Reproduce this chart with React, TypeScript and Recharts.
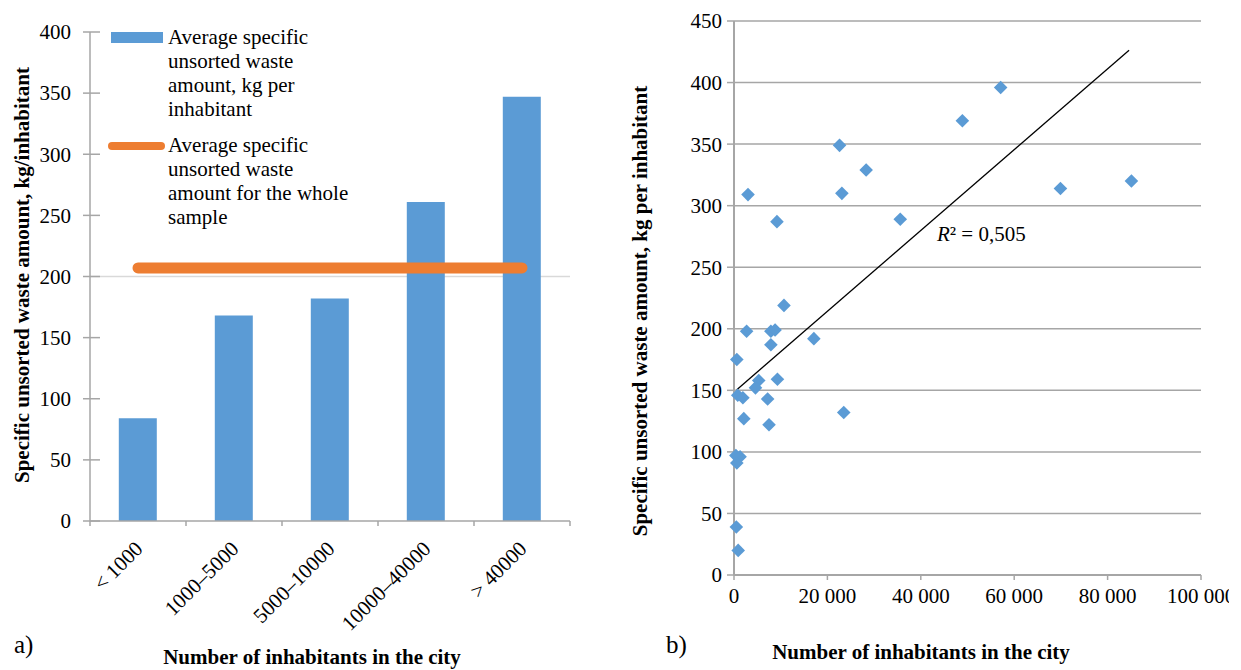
import React from 'react';
import {
  ComposedChart, Bar, Line, XAxis, YAxis, Legend, CartesianGrid,
  ScatterChart, Scatter, ReferenceLine,
} from 'recharts';

// ---------- Chart a) data ----------
const categories = ['< 1000', '1000–5000', '5000–10000', '10000–40000', '> 40000'];
const avgWastePerGroup = [84, 168, 182, 261, 347];
const avgWholeSample = [207, 207, 207, 207, 207];
const leftYTicks = [0, 50, 100, 150, 200, 250, 300, 350, 400];
const barSeriesName = 'Average specific unsorted waste amount, kg per inhabitant';
const lineSeriesName = 'Average specific unsorted waste amount for the whole sample';

// ---------- Chart b) data ----------
const inhabitants = [
  3000, 9200, 22600, 23100, 28300, 35600, 48900, 57100, 69900, 85100,
  10700, 2700, 7900, 8800, 7900, 17100, 600, 5300, 4600, 9300,
  800, 1900, 7200, 2100, 7500, 23500, 400, 1300, 600, 500, 900,
];
const wastePerInhabitant = [
  309, 287, 349, 310, 329, 289, 369, 396, 314, 320,
  219, 198, 198, 199, 187, 192, 175, 158, 152, 159,
  146, 144, 143, 127, 122, 132, 97, 96, 91, 39, 20,
];
const trendX = [600, 84600];
const trendY = [150.5, 426.3];
const rightXTicks = [0, 20000, 40000, 60000, 80000, 100000];
const rightYTicks = [0, 50, 100, 150, 200, 250, 300, 350, 400, 450];
const r2Label = '0,505';

const barData = categories.map((c, i) => ({
  name: c,
  value: avgWastePerGroup[i],
  avg: avgWholeSample[i],
}));
const scatterData = inhabitants.map((x, i) => ({ x, y: wastePerInhabitant[i] }));

const FONT = '"Liberation Serif", "Times New Roman", serif';
const BLUE = '#5B9BD5';
const ORANGE = '#ED7D31';
const AXIS = '#a6a6a6';

const fmtThousands = (v: number) =>
  String(v).replace(/\B(?=(\d{3})+(?!\d))/g, ' ');

const LeftYTick = (props: any) => {
  const { x, y, payload } = props;
  const ax = x + 19;
  return (
    <g>
      <line x1={ax - 7} x2={ax + 10} y1={y} y2={y} stroke={AXIS} strokeWidth={1.5} />
      <text x={x} y={y} dy="0.35em" textAnchor="end" fontSize={21} fontFamily={FONT} fill="#000">
        {payload.value}
      </text>
    </g>
  );
};

const LeftXTick = (props: any) => {
  const { x, y, payload, index, visibleTicksCount } = props;
  const half = 48;
  const tx = x + 6;
  const ty = y + 29;
  return (
    <g>
      <line x1={x - half} x2={x - half} y1={y} y2={y + 5} stroke={AXIS} strokeWidth={1.5} />
      {index === visibleTicksCount - 1 && (
        <line x1={x + half} x2={x + half} y1={y} y2={y + 5} stroke={AXIS} strokeWidth={1.5} />
      )}
      <text
        x={tx}
        y={ty}
        textAnchor="end"
        transform={`rotate(-45, ${tx}, ${ty})`}
        fontSize={21}
        fontFamily={FONT}
        fill="#000"
      >
        {payload.value}
      </text>
    </g>
  );
};

const LegendContent = () => (
  <div style={{ fontFamily: FONT, fontSize: 21, lineHeight: '24px', color: '#000', textAlign: 'left' }}>
    <div style={{ display: 'flex', alignItems: 'flex-start' }}>
      <div style={{ width: 57, flex: '0 0 57px', marginTop: 7 }}>
        <div style={{ marginLeft: 3, width: 52, height: 11, background: BLUE }} />
      </div>
      <div style={{ marginLeft: 3, width: 186 }}>{barSeriesName}</div>
    </div>
    <div style={{ display: 'flex', alignItems: 'flex-start', marginTop: 12 }}>
      <svg width={57} height={24} style={{ flex: '0 0 57px' }}>
        <line x1={4} x2={53} y1={13} y2={13} stroke={ORANGE} strokeWidth={8} strokeLinecap="round" />
      </svg>
      <div style={{ marginLeft: 3, width: 186 }}>{lineSeriesName}</div>
    </div>
  </div>
);

const titleStyle: React.CSSProperties = {
  position: 'absolute',
  fontFamily: FONT,
  fontWeight: 'bold',
  fontSize: 21,
  whiteSpace: 'nowrap',
  color: '#000',
  lineHeight: '24px',
};

export default function App() {
  return (
    <div style={{ position: 'absolute', left: 0, top: 0, width: 1241, height: 670, background: '#fff', overflow: 'hidden', fontFamily: FONT }}>
      {/* Chart a) */}
      <div style={{ position: 'absolute', left: 0, top: 0 }}>
        <ComposedChart
          width={620}
          height={670}
          data={barData}
          margin={{ top: 32, right: 50, left: 30, bottom: 49 }}
          barCategoryGap="30%"
        >
          <CartesianGrid vertical={false} horizontalValues={[200]} stroke="#d9d9d9" strokeWidth={1.5} />
          <XAxis
            dataKey="name"
            height={100}
            axisLine={{ stroke: AXIS, strokeWidth: 1.5 }}
            tickLine={false}
            tickSize={0}
            tickMargin={0}
            interval={0}
            tick={<LeftXTick />}
          />
          <YAxis
            width={60}
            domain={[0, 400]}
            ticks={leftYTicks}
            axisLine={{ stroke: AXIS, strokeWidth: 1.5 }}
            tickLine={false}
            tickSize={7}
            tickMargin={12}
            tick={<LeftYTick />}
          />
          <Legend
            verticalAlign="middle"
            align="center"
            layout="horizontal"
            content={<LegendContent />}
            wrapperStyle={{ position: 'absolute', left: 108, top: 25, width: 260, height: 'auto' }}
          />
          <Bar dataKey="value" name={barSeriesName} fill={BLUE} isAnimationActive={false} />
          <Line
            dataKey="avg"
            name={lineSeriesName}
            stroke={ORANGE}
            strokeWidth={11}
            strokeLinecap="round"
            dot={false}
            activeDot={false}
            isAnimationActive={false}
          />
        </ComposedChart>
      </div>

      {/* Chart b) */}
      <div style={{ position: 'absolute', left: 620, top: 0 }}>
        <ScatterChart
          width={609}
          height={670}
          margin={{ top: 21, right: 28, left: 54, bottom: 65 }}
          style={{ overflow: 'hidden' }}
        >
          <CartesianGrid vertical={false} stroke={AXIS} strokeWidth={1.5} />
          <XAxis
            type="number"
            dataKey="x"
            domain={[0, 100000]}
            ticks={rightXTicks}
            height={30}
            tickFormatter={fmtThousands}
            axisLine={{ stroke: AXIS, strokeWidth: 2 }}
            tickLine={{ stroke: AXIS, strokeWidth: 1.5 }}
            tickSize={5}
            tickMargin={8}
            tick={{ fontSize: 21, fontFamily: FONT, fill: '#000' }}
            interval={0}
          />
          <YAxis
            type="number"
            dataKey="y"
            domain={[0, 450]}
            ticks={rightYTicks}
            width={60}
            axisLine={{ stroke: AXIS, strokeWidth: 2 }}
            tickLine={{ stroke: AXIS, strokeWidth: 1.5 }}
            tickSize={7}
            tickMargin={5}
            tick={{ fontSize: 21, fontFamily: FONT, fill: '#000' }}
            interval={0}
          />
          <Scatter
            data={scatterData}
            fill={BLUE}
            isAnimationActive={false}
            shape={(p: any) => {
              const { cx, cy } = p;
              const r = 6.8;
              return (
                <path
                  d={`M${cx},${cy - r}L${cx + r},${cy}L${cx},${cy + r}L${cx - r},${cy}Z`}
                  fill={BLUE}
                />
              );
            }}
          />
          <ReferenceLine
            segment={[
              { x: trendX[0], y: trendY[0] },
              { x: trendX[1], y: trendY[1] },
            ]}
            stroke="#000"
            strokeWidth={1.3}
          />
        </ScatterChart>
      </div>

      {/* Titles and labels */}
      <div style={{ ...titleStyle, left: 22, top: 275, transform: 'translate(-50%, -50%) rotate(-90deg)' }}>
        Specific unsorted waste amount, kg/inhabitant
      </div>
      <div style={{ ...titleStyle, left: 312, top: 657, transform: 'translate(-50%, -50%)' }}>
        Number of inhabitants in the city
      </div>
      <div style={{ ...titleStyle, left: 640, top: 311, transform: 'translate(-50%, -50%) rotate(-90deg)' }}>
        Specific unsorted waste amount, kg per inhabitant
      </div>
      <div style={{ ...titleStyle, left: 921, top: 652, transform: 'translate(-50%, -50%)' }}>
        Number of inhabitants in the city
      </div>
      <div style={{ position: 'absolute', left: 14, top: 630, fontFamily: FONT, fontSize: 25, lineHeight: '30px' }}>a)</div>
      <div style={{ position: 'absolute', left: 666, top: 630, fontFamily: FONT, fontSize: 25, lineHeight: '30px' }}>b)</div>
      <div style={{ position: 'absolute', left: 937, top: 222, fontFamily: FONT, fontSize: 21, lineHeight: '24px', whiteSpace: 'nowrap' }}>
        <i>R</i>² = {r2Label}
      </div>
    </div>
  );
}
